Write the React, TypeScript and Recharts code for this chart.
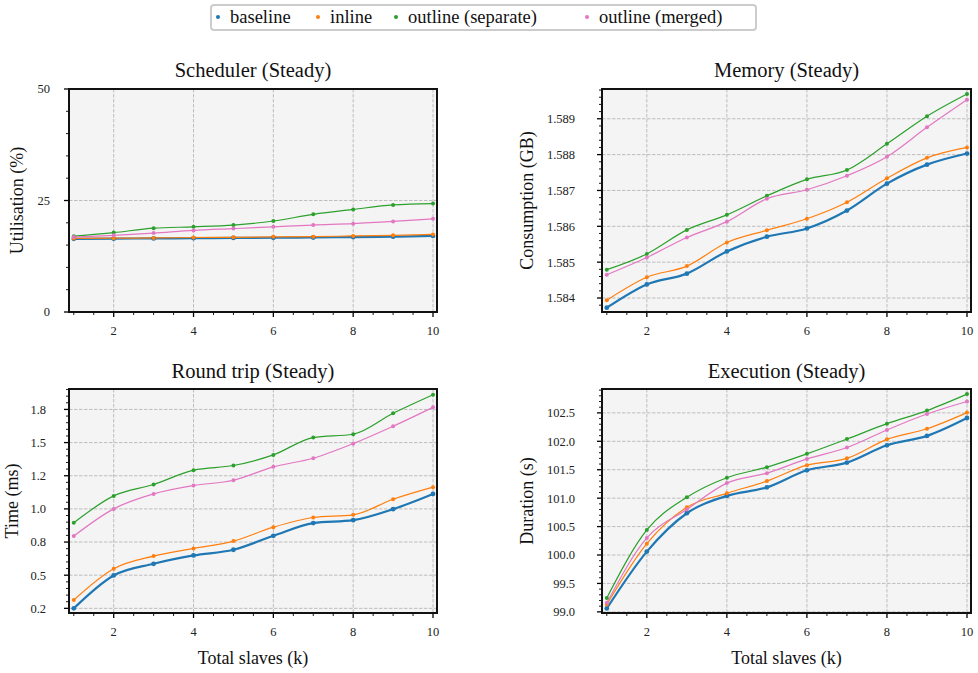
import { LineChart, Line, XAxis, YAxis, CartesianGrid } from "recharts"

// x values (thousands of slaves) and the four configurations
const SLAVES = [1, 2, 3, 4, 5, 6, 7, 8, 9, 10]
const SERIES_KEYS = ["baseline", "inline", "separate", "merged"]
const SERIES_NAMES = ["baseline", "inline", "outline (separate)", "outline (merged)"]
const COLORS = ["#1f77b4", "#ff7f0e", "#2ca02c", "#e377c2"]

const X_MAJOR = [2, 4, 6, 8, 10]
const X_DOMAIN = [0.88, 10.1]

// Scheduler utilisation (%)
const SCHED_BASELINE = [16.4, 16.45, 16.5, 16.55, 16.6, 16.65, 16.7, 16.8, 16.9, 17.05]
const SCHED_INLINE = [16.5, 16.55, 16.6, 16.7, 16.75, 16.85, 16.9, 17.05, 17.2, 17.4]
const SCHED_SEPARATE = [17.0, 17.8, 18.8, 19.1, 19.5, 20.4, 21.9, 23.0, 24.0, 24.3]
const SCHED_MERGED = [16.8, 17.2, 17.7, 18.3, 18.7, 19.1, 19.5, 19.8, 20.3, 20.9]
const SCHED_TICKS = [0, 25, 50]
const SCHED_LABELS = ["0", "25", "50"]

// Memory consumption (GB)
const MEM_BASELINE = [1.58373, 1.58438, 1.58468, 1.5853, 1.58571, 1.58594, 1.58644, 1.58719, 1.58772, 1.58803]
const MEM_INLINE = [1.58394, 1.58458, 1.58489, 1.58555, 1.58589, 1.58621, 1.58667, 1.58734, 1.58791, 1.5882]
const MEM_SEPARATE = [1.58479, 1.58523, 1.5859, 1.58632, 1.58685, 1.58731, 1.58757, 1.5883, 1.58907, 1.58969]
const MEM_MERGED = [1.58465, 1.58513, 1.58569, 1.58613, 1.58677, 1.58702, 1.58741, 1.58794, 1.58876, 1.58953]
const MEM_TICKS = [1.584, 1.585, 1.586, 1.587, 1.588, 1.589]
const MEM_LABELS = ["1.584", "1.585", "1.586", "1.587", "1.588", "1.589"]

// Round trip time (ms)
const RT_BASELINE = [0.25, 0.498, 0.586, 0.649, 0.692, 0.797, 0.893, 0.915, 0.998, 1.113]
const RT_INLINE = [0.313, 0.549, 0.644, 0.702, 0.757, 0.862, 0.935, 0.955, 1.073, 1.164]
const RT_SEPARATE = [0.895, 1.098, 1.184, 1.292, 1.327, 1.407, 1.538, 1.563, 1.721, 1.861]
const RT_MERGED = [0.795, 1.0, 1.113, 1.176, 1.216, 1.317, 1.382, 1.492, 1.623, 1.766]
const RT_TICKS = [0.25, 0.5, 0.75, 1.0, 1.25, 1.5, 1.75]
const RT_LABELS = ["0.2", "0.5", "0.8", "1.0", "1.2", "1.5", "1.8"]

// Execution duration (s)
const EXEC_BASELINE = [99.06, 100.06, 100.735, 101.04, 101.19, 101.49, 101.625, 101.93, 102.095, 102.41]
const EXEC_INLINE = [99.13, 100.2, 100.84, 101.085, 101.3, 101.58, 101.7, 102.035, 102.22, 102.505]
const EXEC_SEPARATE = [99.245, 100.44, 101.015, 101.36, 101.545, 101.78, 102.04, 102.31, 102.54, 102.83]
const EXEC_MERGED = [99.16, 100.3, 100.8, 101.265, 101.44, 101.69, 101.89, 102.2, 102.48, 102.7]
const EXEC_TICKS = [99.0, 99.5, 100.0, 100.5, 101.0, 101.5, 102.0, 102.5]
const EXEC_LABELS = ["99.0", "99.5", "100.0", "100.5", "101.0", "101.5", "102.0", "102.5"]

const FONT = "'Liberation Serif', 'DejaVu Serif', serif"

function steps(start: number, stop: number, step: number) {
  const out: number[] = []
  const n = Math.round((stop - start) / step)
  for (let i = 0; i <= n; i++) out.push(+(start + i * step).toFixed(6))
  return out
}

const X_TICKS = steps(1, 10, 0.5)

function rows(series: number[][]) {
  return SLAVES.map((x, i) => {
    const r: Record<string, number> = { x }
    SERIES_KEYS.forEach((k, s) => (r[k] = series[s][i]))
    return r
  })
}

const TICK_TEXT: React.CSSProperties = { fontFamily: FONT, fontSize: 12.5, fill: "#222" }

function XTick(props: any) {
  const { x, y, payload } = props
  const major = X_MAJOR.includes(payload.value)
  return (
    <g>
      <line x1={x} x2={x} y1={y} y2={y + (major ? 5 : 3)} stroke="#000" strokeWidth={major ? 1.3 : 0.9} />
      {major && (
        <text x={x} y={y + 14} dy="0.71em" textAnchor="middle" style={TICK_TEXT}>
          {payload.value}
        </text>
      )}
    </g>
  )
}

function yTick(major: number[], labels: string[], gap: number) {
  return (props: any) => {
    const { x, y, payload } = props
    const i = major.findIndex((m) => Math.abs(m - payload.value) < 1e-7)
    return (
      <g>
        <line x1={x} x2={x - (i >= 0 ? 5 : 3)} y1={y} y2={y} stroke="#000" strokeWidth={i >= 0 ? 1.3 : 0.9} />
        {i >= 0 && (
          <text x={x - gap} y={y} dy="0.35em" textAnchor="end" style={TICK_TEXT}>
            {labels[i]}
          </text>
        )}
      </g>
    )
  }
}

interface PanelProps {
  title: string
  yLabel: string
  data: Record<string, number>[]
  yDomain: number[]
  yMajor: number[]
  yLabels: string[]
  yTicks: number[]
  plot: { left: number; top: number; width: number; height: number }
  gap: number
  yLabelX: number
  titleY: number
  xLabel?: boolean
}

function Panel(p: PanelProps) {
  const { plot } = p
  return (
    <>
      <div
        style={{
          position: "absolute", left: plot.left, top: p.titleY - 12, width: plot.width,
          textAlign: "center", fontSize: 20.5, lineHeight: "24px", color: "#111",
        }}
      >
        {p.title}
      </div>
      <div style={{ position: "absolute", left: plot.left - 90, top: plot.top - 10 }}>
        <LineChart width={plot.width + 95} height={plot.height + 70} data={p.data}
          margin={{ top: 10, right: 5, left: 0, bottom: 0 }}>
          <CartesianGrid fill="#f4f4f4" stroke="#b0b0b0" strokeDasharray="3.5 1.5" strokeWidth={0.8}
            horizontalValues={p.yMajor} verticalValues={X_MAJOR} />
          <XAxis type="number" dataKey="x" domain={X_DOMAIN} allowDataOverflow ticks={X_TICKS} interval={0}
            height={60} tickSize={0} tickMargin={0} axisLine={false} tickLine={false} tick={XTick} />
          <YAxis type="number" domain={p.yDomain} allowDataOverflow ticks={p.yTicks} interval={0} width={90}
            tickSize={0} tickMargin={0} axisLine={false} tickLine={false} tick={yTick(p.yMajor, p.yLabels, p.gap)}
            label={{
              value: p.yLabel, angle: -90, position: "insideLeft", offset: p.yLabelX - plot.left + 90,
              style: { textAnchor: "middle", fontSize: 18, fill: "#111", fontFamily: FONT },
            }} />
          {SERIES_KEYS.map((k, i) => (
            <Line key={k} dataKey={k} type="monotone" stroke={COLORS[i]} strokeWidth={i === 0 ? 2.2 : 1.2}
              dot={{ r: i === 0 ? 2.4 : 2, fill: COLORS[i], strokeWidth: 0 }} activeDot={false}
              isAnimationActive={false} />
          ))}
        </LineChart>
      </div>
      <div
        style={{
          position: "absolute", left: plot.left - 1, top: plot.top - 1, width: plot.width + 2,
          height: plot.height + 2, border: "2px solid #111", boxSizing: "border-box", pointerEvents: "none",
        }}
      />
      {p.xLabel && (
        <div
          style={{
            position: "absolute", left: plot.left, top: 646, width: plot.width,
            textAlign: "center", fontSize: 18, lineHeight: "24px", color: "#111",
          }}
        >
          Total slaves (k)
        </div>
      )}
    </>
  )
}

const LEGEND_DOT_X = [218, 318, 396, 587]

export default function App() {
  return (
    <div
      style={{
        position: "absolute", left: 0, top: 0, width: 978, height: 673, overflow: "hidden",
        background: "#fff", fontFamily: FONT,
      }}
    >
      <div
        style={{
          position: "absolute", left: 210, top: 4, width: 547, height: 27, border: "2px solid #cccccc",
          borderRadius: 4, boxSizing: "border-box",
        }}
      />
      {SERIES_NAMES.map((name, i) => (
        <div key={name}>
          <div
            style={{
              position: "absolute", left: LEGEND_DOT_X[i] - 2, top: 15, width: 4, height: 4,
              borderRadius: 2, background: COLORS[i],
            }}
          />
          <div style={{ position: "absolute", left: LEGEND_DOT_X[i] + 12, top: 5, fontSize: 18.5, lineHeight: "24px", color: "#111" }}>
            {name}
          </div>
        </div>
      ))}

      <Panel title="Scheduler (Steady)" yLabel="Utilisation (%)"
        data={rows([SCHED_BASELINE, SCHED_INLINE, SCHED_SEPARATE, SCHED_MERGED])}
        yDomain={[0, 50]} yMajor={SCHED_TICKS} yLabels={SCHED_LABELS} yTicks={steps(0, 50, 5)}
        plot={{ left: 69, top: 89, width: 368, height: 223 }} gap={19} yLabelX={17} titleY={70} />
      <Panel title="Memory (Steady)" yLabel="Consumption (GB)"
        data={rows([MEM_BASELINE, MEM_INLINE, MEM_SEPARATE, MEM_MERGED])}
        yDomain={[1.58361, 1.58983]} yMajor={MEM_TICKS} yLabels={MEM_LABELS} yTicks={steps(1.5838, 1.5898, 0.0002)}
        plot={{ left: 602, top: 89, width: 369, height: 223 }} gap={27} yLabelX={527} titleY={70} />
      <Panel title="Round trip (Steady)" yLabel="Time (ms)"
        data={rows([RT_BASELINE, RT_INLINE, RT_SEPARATE, RT_MERGED])}
        yDomain={[0.215, 1.904]} yMajor={RT_TICKS} yLabels={RT_LABELS} yTicks={steps(0.25, 1.9, 0.05)}
        plot={{ left: 69, top: 389, width: 368, height: 224 }} gap={23} yLabelX={12} titleY={371} xLabel />
      <Panel title="Execution (Steady)" yLabel="Duration (s)"
        data={rows([EXEC_BASELINE, EXEC_INLINE, EXEC_SEPARATE, EXEC_MERGED])}
        yDomain={[98.98, 102.92]} yMajor={EXEC_TICKS} yLabels={EXEC_LABELS} yTicks={steps(99, 102.9, 0.1)}
        plot={{ left: 602, top: 389, width: 369, height: 224 }} gap={27} yLabelX={527} titleY={371} xLabel />
    </div>
  )
}
